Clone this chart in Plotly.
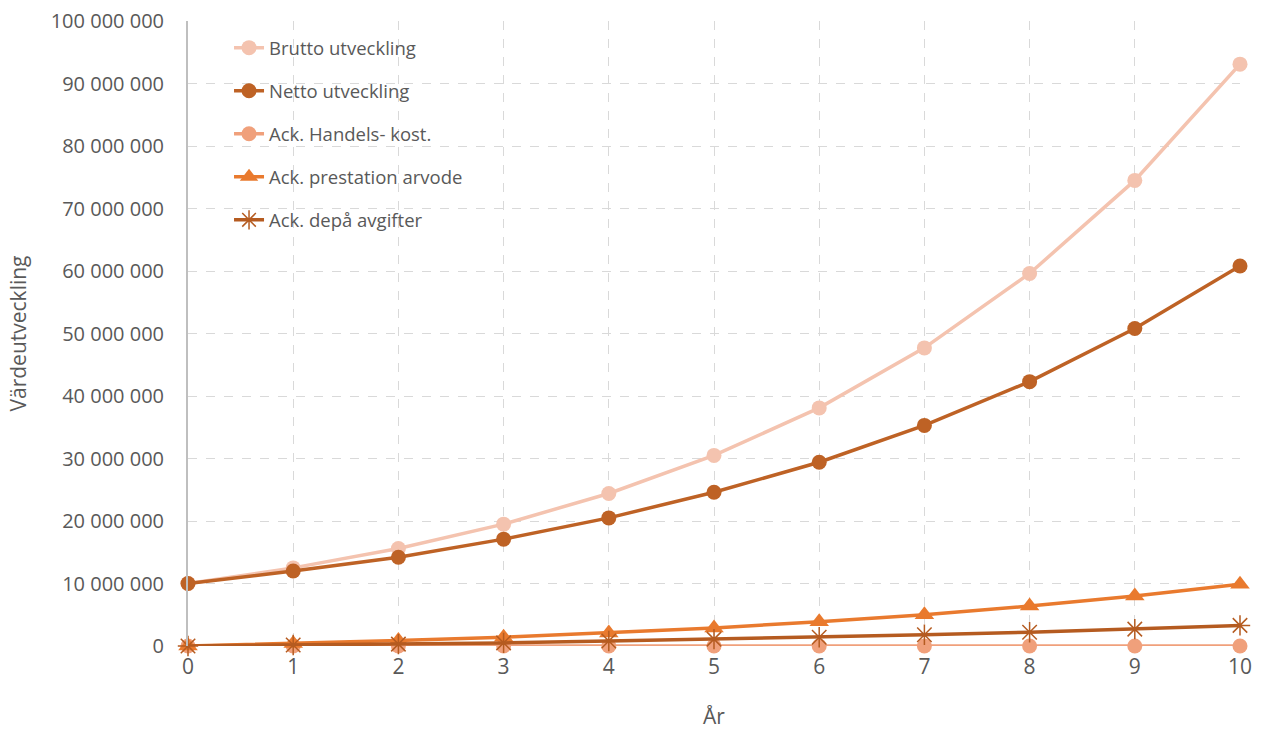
import plotly.graph_objects as go

years = list(range(0, 11))

brutto = [10.0e6, 12.5e6, 15.6e6, 19.5e6, 24.4e6, 30.5e6, 38.1e6, 47.7e6, 59.6e6, 74.5e6, 93.1e6]
netto = [10.0e6, 12.0e6, 14.2e6, 17.1e6, 20.5e6, 24.6e6, 29.4e6, 35.3e6, 42.3e6, 50.8e6, 60.8e6]
handels = [0, 0, 0, 0, 0, 0, 0, 0, 0, 0, 0]
prestation = [0, 0.4e6, 0.9e6, 1.4e6, 2.1e6, 2.9e6, 3.9e6, 5.0e6, 6.4e6, 8.0e6, 9.9e6]
depa = [0, 0.15e6, 0.3e6, 0.5e6, 0.8e6, 1.1e6, 1.4e6, 1.8e6, 2.2e6, 2.7e6, 3.3e6]

y_ticks = list(range(0, 100_000_001, 10_000_000))

series = [
    ("Brutto utveckling", brutto, "#F4C3AF", "circle", 15),
    ("Netto utveckling", netto, "#BE6225", "circle", 15),
    ("Ack. Handels- kost.", handels, "#F0A07B", "circle", 15),
    ("Ack. prestation arvode", prestation, "#E97A2E", "triangle-up", 17),
    ("Ack. depå avgifter", depa, "#B55B20", "asterisk-open", 17),
]

fig = go.Figure()
for i, (name, vals, color, symbol, size) in enumerate(series):
    marker = dict(symbol=symbol, size=size, color=color)
    if symbol == "asterisk-open":
        marker["line"] = dict(color=color, width=1.5)
    fig.add_trace(go.Scatter(
        x=years, y=vals, name=name, mode="lines+markers",
        line=dict(color=color, width=3.5),
        marker=marker,
        legendgroup=f"g{i}",
        cliponaxis=False,
    ))

grid = dict(showgrid=True, gridcolor="#D9D9D9", griddash="dash", gridwidth=1)

fig.update_layout(
    width=1261, height=733,
    margin=dict(l=188, r=21, t=21, b=87, autoexpand=False),
    paper_bgcolor="white", plot_bgcolor="white",
    font=dict(family="Open Sans", size=20, color="#595959"),
    separators=", ",
    showlegend=True,
    legend=dict(
        x=0.039, y=0.987, xanchor="left", yanchor="top",
        bgcolor="rgba(0,0,0,0)",
        font=dict(size=18.5, color="#595959"),
        traceorder="grouped", tracegroupgap=16,
    ),
    xaxis=dict(
        title=dict(text="År", standoff=30, font=dict(size=21, color="#595959")),
        range=[0, 10], tickmode="array", tickvals=years,
        showline=False, zeroline=False, ticks="",
        tickfont=dict(size=21), ticklabelstandoff=6,
        automargin=False,
        **grid,
    ),
    yaxis=dict(
        title=dict(text="Värdeutveckling", standoff=18, font=dict(size=21, color="#595959")),
        range=[0, 100_000_000], tickmode="array", tickvals=y_ticks,
        tickformat=",d", showline=True, linecolor="#BFBFBF", linewidth=2,
        zeroline=False, ticks="", ticklabelstandoff=18,
        tickfont=dict(size=20),
        automargin=False,
        **grid,
    ),
)

fig.write_html("out.html")
